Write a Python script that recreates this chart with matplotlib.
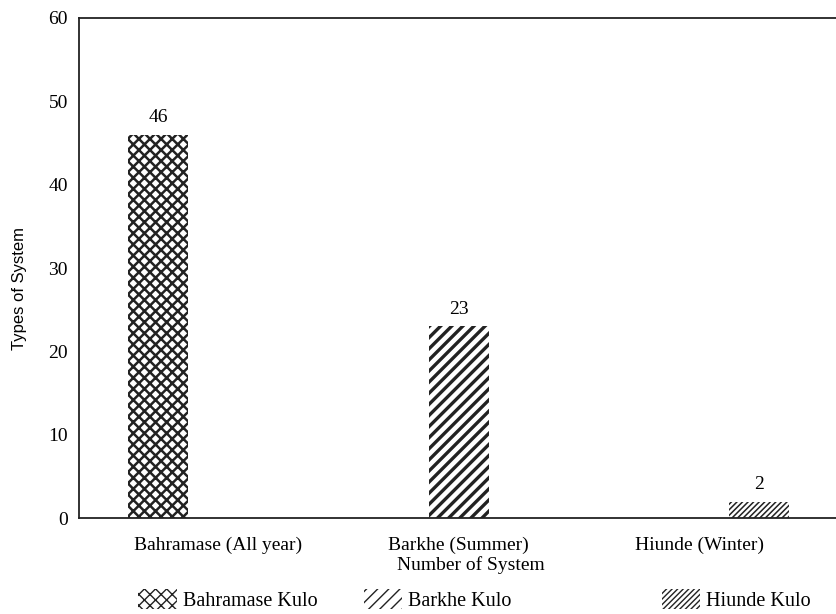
import matplotlib.pyplot as plt
from matplotlib.patches import Patch
import numpy as np

categories = ["Bahramase (All year)", "Barkhe (Summer)", "Hiunde (Winter)"]
series_names = ["Bahramase Kulo", "Barkhe Kulo", "Hiunde Kulo"]
bahramase = [46, 0, 0]
barkhe = [0, 23, 0]
hiunde = [0, 0, 2]

plt.rcParams['font.family'] = ['Liberation Serif', 'DejaVu Serif']

fig = plt.figure(figsize=(8.36, 6.14), dpi=100)
ax = fig.add_axes([0.0945, 0.156, 0.92, 0.815])

x = np.arange(len(categories))
w = 0.25
hatches = ["xxx", "///", "//////"]
hatch_lw = [1.8, 2.4, 1.1]
ink = "#222222"
all_series = [bahramase, barkhe, hiunde]

for i, vals in enumerate(all_series):
    with plt.rc_context({'hatch.linewidth': hatch_lw[i]}):
        bars = ax.bar(x + (i - 1) * w, vals, w, color="white", edgecolor=ink,
                      hatch=hatches[i], linewidth=0)
    labels = [str(v) if v else "" for v in vals]
    ax.bar_label(bars, labels=labels, padding=6, fontsize=14)

ax.set_xlim(-0.58, 2.62)
ax.set_ylim(0, 60)
ax.set_yticks(range(0, 61, 10))
ax.set_xticks(x)
ax.set_xticklabels(categories, fontsize=14)
ax.tick_params(axis='x', length=0, labelsize=14, pad=13)
ax.tick_params(axis='y', length=0, labelsize=14, pad=8)
ax.set_xlabel("Number of System", fontsize=14)
ax.xaxis.set_label_coords(0.51, -0.076)
ax.set_ylabel("Types of System", fontsize=12, family=['Liberation Sans', 'DejaVu Sans'])
ax.yaxis.set_label_coords(-0.068, 0.46)
ax.spines['right'].set_visible(False)
for s in ['left', 'top', 'bottom']:
    ax.spines[s].set_linewidth(1.3)
    ax.spines[s].set_color(ink)

# legend entries are spaced unevenly in the reference, so one legend per entry
legend_x = [0.162, 0.432, 0.788]
for i in range(3):
    with plt.rc_context({'hatch.linewidth': hatch_lw[i]}):
        h = Patch(facecolor="white", edgecolor=ink, hatch=hatches[i], linewidth=0)
    fig.legend([h], [series_names[i]], loc="lower left", bbox_to_anchor=(legend_x[i], 0.0),
               frameon=False, fontsize=14.5, handlelength=1.9, handleheight=1.1,
               handletextpad=0.3, borderaxespad=0, borderpad=0.15)

fig.savefig("out.png", dpi=100)
